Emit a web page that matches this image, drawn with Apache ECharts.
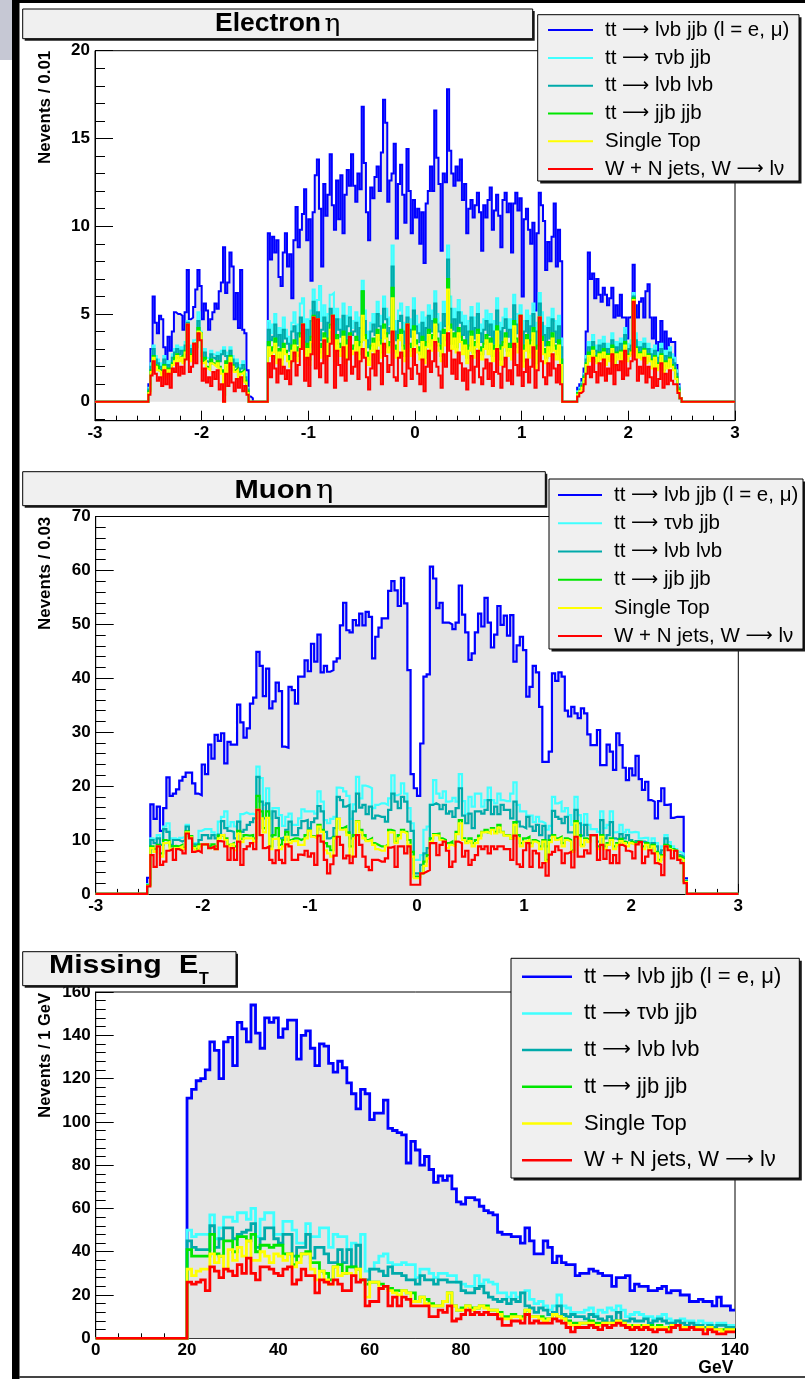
<!DOCTYPE html>
<html><head><meta charset="utf-8">
<script src="https://cdn.jsdelivr.net/npm/echarts@6/dist/echarts.min.js"></script>
<style>html,body{margin:0;padding:0;background:#fff}#c{width:805px;height:1379px}</style>
</head><body><div id="c"></div><script>
const NAMES = ['tt \u2192 l\u03bdb jjb (l = e, \u03bc)', 'tt \u2192 \u03c4\u03bdb jjb', 'tt \u2192 l\u03bdb l\u03bdb', 'tt \u2192 jjb jjb', 'Single Top', 'W + N jets, W \u2192 l\u03bd'];
const COLORS = ['#0000ff', '#40ffff', '#00aaaa', '#00e600', '#ffff00', '#ff0000'];

// ---------- Electron eta: 0.02 bins from -2.50 to 2.50 (cumulative stack levels as read) ----------
const eleStart = -2.5, eleBin = 0.02;
const eleLvbJjb = [
 1.0,3.0,6.0,4.5,3.9,4.9,4.7,3.1,2.4,3.7, 2.9,4.0,5.1,5.0,5.0,4.9,4.1,5.1,7.5,4.7, 4.8,5.4,6.4,7.5,6.6,4.7,5.6,5.2,4.1,4.7,
 5.1,5.6,5.3,6.3,6.8,8.8,6.2,6.8,8.5,7.7, 4.7,6.2,4.2,7.5,4.1,3.9,1.8,
 0.3,0.2,0,0,0,0,0,0,0,
 9.6,8.1,9.4,8.5,9.2,7.1,6.6,8.5,9.6,7.7, 8.4,5.9,9.2,11.1,8.8,9.8,10.7,12.1,9.2,10.4, 6.9,10.8,12.9,13.8,11.0,7.7,12.4,10.6,11.8,14.1,
 11.2,9.8,12.6,10.4,12.9,9.6,11.8,13.2,12.3,14.1, 12.3,11.4,13.0,12.1,16.8,13.6,10.8,9.2,12.2,11.6, 12.8,13.4,12.0,14.2,17.2,15.9,11.4,12.6,13.0,14.7,
 9.3,12.4,13.5,11.8,10.2,14.4,12.0,9.6,11.5,10.5, 11.0,9.0,10.8,7.9,11.3,12.0,13.4,12.0,16.6,13.9, 12.4,8.6,13.0,12.5,17.8,14.3,13.0,12.3,13.4,12.6,
 13.8,11.5,12.4,9.6,11.0,11.5,10.5,11.2,11.9,10.8, 8.6,11.2,10.5,11.5,12.2,9.8,10.9,11.8,10.6,8.8, 11.5,11.9,10.8,11.3,8.5,11.3,11.9,10.9,11.6,6.0,
 10.4,11.0,9.8,9.0,10.2,5.2,9.6,11.9,11.2,10.3, 7.5,9.1,8.0,9.4,11.3,7.7,9.8,8.0,
 0,0,0,0,0,0,0,
 0.8,1.0,1.3,1.9,4.0,8.5,7.0,7.3,5.9,7.0, 6.1,5.7,6.5,6.1,5.5,5.9,6.5,4.8,5.5,4.9, 6.1,4.8,4.8,3.6,4.8,4.9,7.8,5.5,4.8,5.7,
 5.9,4.8,6.3,6.7,4.8,3.6,4.8,2.9,3.4,4.6, 3.0,4.0,3.0,3.6,3.4,3.4,2.1,1.0,0.2];
const eleTauJjb = [
 0.8,2.2,3.2,2.6,2.4,2.2,2.0,2.6,1.9,2.3, 2.1,2.7,3.0,3.2,2.9,3.1,2.8,3.4,4.6,3.0, 3.2,3.5,3.6,5.1,4.0,2.8,3.0,2.5,2.4,2.9,
 2.7,2.6,2.8,2.5,2.9,3.1,2.8,2.2,3.1,2.6, 2.2,2.4,1.9,2.1,2.3,1.6,0.8,
 0,0,0,0,0,0,0,0,0,
 4.6,3.9,4.4,5.0,3.6,4.2,3.4,4.8,4.1,3.7, 3.2,4.5,5.1,3.8,4.4,5.6,5.9,3.9,4.7,3.5, 5.2,6.4,4.3,5.8,6.6,4.6,5.5,3.9,5.0,6.1,
 6.2,3.8,5.3,4.7,4.1,5.6,3.7,4.9,5.4,4.2, 4.6,5.1,3.9,4.8,6.9,5.2,4.0,3.6,4.5,5.0, 4.3,5.7,4.9,4.1,6.0,5.3,4.4,4.8,8.9,4.6,
 4.0,5.2,5.6,4.5,3.8,5.4,4.7,4.2,5.9,4.9, 4.4,3.9,5.1,3.6,4.8,5.5,4.6,5.2,6.3,5.0, 4.5,3.8,5.7,4.9,8.9,6.0,4.7,5.3,4.4,5.8,
 5.1,4.3,4.9,3.7,4.6,5.4,4.1,4.8,5.6,4.4, 3.9,4.7,5.2,4.3,5.0,3.8,4.6,5.9,4.5,3.6, 4.8,5.3,4.2,4.7,3.9,6.1,5.0,4.4,5.5,3.4,
 4.6,5.2,4.0,4.9,5.6,3.3,4.5,6.2,5.1,4.3, 3.7,4.8,4.1,5.3,4.6,3.9,4.9,3.6,
 0,0,0,0,0,0,0,
 0.6,0.8,1.1,1.6,2.6,3.4,3.0,3.8,3.2,2.9, 3.5,3.1,3.7,2.8,3.3,3.0,3.9,2.7,3.4,3.1, 3.6,2.9,4.2,3.0,3.3,3.5,6.2,3.9,3.2,3.4,
 3.1,3.6,2.9,3.3,3.0,2.6,3.2,2.5,2.8,3.3, 2.4,2.9,2.6,3.1,2.7,2.5,1.8,0.9,0.2];
const eleLvbLvb = [
 0.7,2.0,3.0,2.4,2.2,2.0,1.8,2.4,1.7,2.1, 1.9,2.5,2.8,3.0,2.7,2.9,2.6,3.2,4.5,2.8, 3.0,3.2,3.4,4.6,3.9,2.6,2.8,2.3,2.2,2.7,
 2.5,2.4,2.6,2.3,2.7,2.9,2.6,2.0,2.9,2.4, 2.0,2.2,1.7,1.9,2.1,1.4,0.7,
 0,0,0,0,0,0,0,0,0,
 4.1,3.5,3.7,4.4,3.2,3.8,3.0,4.1,3.6,3.3, 2.9,4.0,4.3,3.3,3.9,4.8,3.8,3.4,4.1,3.1, 4.6,5.7,3.8,5.1,3.5,4.1,4.8,3.4,4.5,5.3,
 3.9,3.3,4.7,4.1,3.7,4.9,3.2,4.3,4.8,3.8, 4.0,4.5,3.5,4.2,6.2,4.6,3.5,3.1,4.0,4.4, 3.8,5.0,4.3,3.6,5.3,4.7,3.9,4.2,7.7,4.0,
 3.5,4.6,4.9,4.0,3.3,4.8,4.1,3.7,5.2,4.3, 3.9,3.4,4.5,3.2,4.2,4.9,4.0,4.6,5.6,4.4, 4.0,3.3,5.0,4.3,8.1,5.3,4.1,4.7,3.9,5.1,
 4.5,3.8,4.3,3.2,4.0,4.8,3.6,4.2,5.0,3.9, 3.4,4.1,4.6,3.8,4.4,3.3,4.0,5.2,4.0,3.1, 4.2,4.7,3.7,4.1,3.4,5.5,4.4,3.9,4.9,3.0,
 4.0,4.6,3.5,4.3,5.0,2.9,4.0,5.6,4.5,3.8, 3.2,4.2,3.6,4.7,4.0,3.4,4.3,3.1,
 0,0,0,0,0,0,0,
 0.5,0.7,1.0,1.5,2.4,3.1,2.7,3.4,2.9,2.6, 3.2,2.8,3.3,2.5,3.0,2.7,3.5,2.4,3.1,2.8, 3.3,2.6,3.8,2.7,3.0,3.2,6.0,3.5,2.9,3.1,
 2.8,3.3,2.6,3.0,2.7,2.3,2.9,2.2,2.5,3.0, 2.1,2.6,2.3,2.8,2.4,2.2,1.6,0.8,0.2];
const eleJjbJjb = [
 0.6,1.8,2.6,2.1,2.0,1.8,1.6,2.1,1.5,1.9, 1.7,2.2,2.5,2.7,2.5,2.6,2.3,2.9,4.4,2.5, 2.7,3.0,3.1,4.2,3.9,2.3,2.5,2.0,1.9,2.4,
 2.2,2.1,2.3,2.0,1.8,0.4,2.3,1.8,2.6,2.1, 1.8,1.9,1.5,1.7,1.8,1.2,0.6,
 0,0,0,0,0,0,0,0,0,
 3.4,2.8,3.1,3.6,2.5,3.0,2.4,3.3,2.9,2.6, 2.2,3.2,3.5,2.6,3.1,3.9,3.0,2.7,3.3,2.4, 3.7,4.9,3.0,4.1,2.8,3.3,3.9,2.6,3.6,4.4,
 3.1,2.6,3.8,3.3,2.9,4.0,2.5,3.5,3.9,3.0, 3.2,3.7,2.7,3.4,6.3,3.8,2.8,2.4,3.2,3.6, 3.0,4.1,3.5,2.8,4.4,3.9,3.1,3.4,6.5,3.2,
 2.8,3.8,4.1,3.2,2.6,4.0,3.3,2.9,4.3,3.5, 3.1,2.7,3.7,2.5,3.4,4.1,3.2,3.8,4.7,3.6, 3.2,2.6,4.1,3.5,7.0,4.4,3.3,3.9,3.1,4.2,
 3.7,3.0,3.5,2.5,3.2,4.0,2.8,3.4,4.1,3.1, 2.7,3.3,3.8,3.0,3.6,2.6,3.2,4.3,3.2,2.4, 3.4,3.9,2.9,3.3,2.7,4.6,3.6,3.1,4.0,2.3,
 3.2,3.8,2.8,3.5,4.2,2.2,3.2,4.7,3.7,3.0, 2.5,3.4,2.9,3.9,3.2,2.7,3.5,2.4,
 0,0,0,0,0,0,0,
 0.5,0.6,0.9,1.4,2.2,2.8,2.4,3.1,2.6,2.3, 2.8,2.5,3.0,2.2,2.7,2.4,3.2,2.1,2.8,2.5, 2.9,2.3,3.4,2.4,2.7,2.9,5.9,3.1,2.6,2.8,
 2.5,3.0,2.3,2.7,2.4,2.0,2.6,1.9,2.2,2.7, 1.8,2.3,2.0,2.5,2.1,1.9,1.4,0.7,0.2];
const eleSingleTop = [
 0.5,1.7,2.5,2.0,1.8,1.7,1.5,2.0,1.4,1.8, 1.6,2.1,2.3,2.6,2.3,2.5,2.2,2.8,4.4,2.3, 2.6,2.8,3.0,4.0,3.9,2.2,2.3,1.9,1.8,2.2,
 2.1,2.0,2.2,1.9,1.6,0.0,2.1,1.7,2.5,2.0, 1.7,1.8,1.4,1.6,1.7,1.1,0.5,
 0,0,0,0,0,0,0,0,0,
 3.1,2.6,2.8,3.3,2.2,2.8,2.1,3.0,2.7,2.3, 2.0,2.9,3.2,2.3,2.8,3.6,2.8,2.4,3.0,2.1, 3.4,4.6,2.7,3.8,2.5,3.0,3.6,2.4,3.3,4.1,
 2.8,2.3,3.5,3.0,2.6,3.7,2.2,3.2,3.6,2.7, 2.9,3.4,2.4,3.1,4.9,3.5,2.5,2.1,2.9,3.3, 2.7,3.8,3.2,2.5,4.1,3.6,2.8,3.1,5.9,2.9,
 2.5,3.5,3.8,2.9,2.3,3.7,3.0,2.6,4.0,3.2, 2.8,2.4,3.4,2.2,3.1,3.8,2.9,3.5,4.4,3.3, 2.9,2.3,3.8,3.2,6.4,4.1,3.0,3.6,2.8,3.9,
 3.4,2.7,3.2,2.2,2.9,3.7,2.5,3.1,3.8,2.8, 2.4,3.0,3.5,2.7,3.3,2.3,2.9,4.0,2.9,2.1, 3.1,3.6,2.6,3.0,2.4,4.3,3.3,2.8,3.7,2.0,
 2.9,3.5,2.5,3.2,3.9,1.9,2.9,4.4,3.4,2.7, 2.2,3.1,2.6,3.6,2.9,2.4,3.2,2.1,
 0,0,0,0,0,0,0,
 0.4,0.6,0.8,1.3,2.1,2.6,2.3,2.9,2.5,2.2, 2.7,2.4,2.8,2.1,2.6,2.3,3.0,2.0,2.7,2.4, 2.8,2.2,3.2,2.3,2.6,2.8,5.8,3.0,2.5,2.7,
 2.4,2.9,2.2,2.6,2.3,1.9,2.5,1.8,2.1,2.6, 1.7,2.2,1.9,2.4,2.0,1.8,1.3,0.6,0.2];
const eleWjets = [
 0.4,1.5,2.3,1.6,1.2,1.4,0.9,1.8,1.0,1.6, 0.8,1.9,1.7,2.2,1.5,2.0,1.6,2.4,4.4,1.7, 2.0,3.3,2.2,3.9,3.5,1.2,1.9,1.1,1.4,0.9,
 1.7,1.3,1.8,0.7,1.0,0.0,1.6,0.9,2.2,1.1, 0.6,1.3,0.8,1.4,0.6,0.9,0.4,
 0,0,0,0,0,0,0,0,0,
 2.2,1.4,2.6,1.9,1.1,2.4,1.6,2.0,1.3,1.8, 1.0,2.3,2.8,1.5,2.1,3.0,4.4,1.2,2.5,0.9, 2.7,4.8,1.9,4.7,1.4,2.2,3.5,1.1,2.6,3.3,
 4.9,0.8,2.9,2.1,1.5,3.1,1.2,2.4,3.7,1.6, 2.0,2.8,1.3,2.3,3.0,2.5,1.4,0.7,1.9,2.7, 1.5,2.9,2.2,1.0,3.3,2.6,1.7,2.1,4.0,1.4,
 1.2,2.5,2.8,1.6,0.9,4.4,1.9,1.3,3.0,2.1, 1.6,1.0,2.4,0.6,2.0,2.9,1.7,2.3,3.4,2.0, 1.5,0.8,2.7,2.0,3.9,2.9,1.6,2.4,1.3,2.8,
 2.2,1.2,1.9,0.7,1.8,2.6,1.1,2.0,2.9,1.4, 1.0,1.9,2.4,1.3,2.2,0.9,1.7,3.0,1.6,0.8, 2.0,2.5,1.2,1.8,1.0,3.3,2.1,1.5,4.9,0.9,
 1.7,2.4,1.1,2.0,3.1,0.8,1.8,4.8,2.3,1.4, 1.0,2.2,1.5,2.7,1.9,1.1,2.1,1.0,
 0,0,0,0,0,0,0,
 0.3,0.5,0.6,1.0,1.6,2.0,1.4,2.5,1.7,1.1, 2.2,1.5,2.4,1.2,1.9,1.6,2.7,1.0,2.1,1.8, 2.3,1.3,2.9,1.5,1.9,2.3,5.7,2.4,1.2,2.0,
 1.6,2.5,1.1,2.0,1.4,0.8,1.9,0.9,1.3,2.2, 0.8,1.6,1.0,1.8,1.2,1.0,1.0,0.5,0.2];

// ---------- Muon eta: 0.03 bins from -2.52 ----------
const muStart = -2.52, muBin = 0.03;
const muLvbJjb = [3.0,
 16.6,13.9,16.2,11.7,15.9,21.6,18.2,18.6,19.4,21.0, 21.7,22.5,22.5,20.5,18.6,18.3,24.0,22.2,27.7,25.1,
 29.5,28.4,29.8,24.2,28.2,27.7,27.7,35.1,31.8,29.0, 30.7,35.3,36.4,44.9,42.3,36.7,41.8,34.4,35.7,39.2,
 37.6,27.3,27.1,38.4,37.8,35.3,40.3,40.3,43.3,41.3, 46.4,43.1,48.1,41.1,42.3,41.2,41.5,43.1,43.7,49.8,
 54.0,48.9,48.5,50.8,49.8,52.0,49.8,52.3,51.4,43.7, 47.7,49.4,51.1,51.1,56.2,58.0,56.3,53.4,58.6,53.9,
 41.5,22.2,19.6,18.2,27.9,40.3,40.7,60.7,58.5,53.0, 54.0,50.3,50.3,50.0,49.1,50.3,57.2,51.8,48.5,43.4,
 44.6,48.5,52.0,49.6,54.9,50.3,45.7,48.1,53.4,49.9, 51.6,47.9,51.7,43.1,46.1,47.7,45.2,36.6,38.4,42.3,
 41.1,34.7,24.5,24.5,26.4,40.9,39.5,41.1,40.3,34.0, 32.9,34.7,33.5,32.6,34.4,33.5,29.6,27.6,27.6,30.4,
 23.9,23.9,27.7,26.4,23.0,29.8,27.6,23.4,21.1,23.3, 22.0,25.6,21.3,19.3,20.8,17.4,17.1,14.0,17.2,19.6,
 16.5,16.6,14.1,14.3,14.3,14.3,2.9];
const muTauJjb = [1.8,
 10.3,10.0,10.9,9.1,12.5,13.1,10.3,10.3,10.0,10.4, 10.6,12.8,10.4,9.4,9.4,11.7,12.0,12.0,12.0,11.4,
 10.9,13.4,14.3,15.3,12.5,13.3,12.5,13.4,14.8,15.1, 14.8,14.9,14.6,23.6,21.5,16.5,19.6,14.0,15.9,15.9,
 14.6,12.6,14.3,14.9,12.8,12.8,14.0,15.7,15.3,15.3, 15.3,14.9,19.0,17.1,13.7,13.1,13.9,14.3,19.7,19.6,
 19.0,18.2,13.9,16.6,21.7,17.7,20.1,19.9,19.6,15.9, 16.5,16.8,16.8,16.5,17.7,22.0,18.3,18.6,20.5,18.6,
 15.9,13.1,6.3,6.3,7.2,11.9,12.5,14.0,21.1,18.6, 17.8,19.0,17.1,17.2,17.8,17.1,22.2,17.2,14.8,18.0,
 16.2,18.6,18.6,16.2,17.4,19.7,17.4,16.8,18.6,17.4, 17.2,17.2,18.6,20.7,16.5,15.3,15.3,14.5,14.5,13.3,
 14.3,13.4,13.1,11.9,12.6,18.0,16.8,17.1,15.3,15.9, 14.6,12.8,18.0,14.6,12.8,14.8,12.8,12.0,12.0,11.5,
 15.3,12.2,12.8,15.3,11.4,11.5,12.8,11.4,11.9,11.4, 11.5,11.4,10.3,10.4,10.4,9.4,10.3,9.4,7.8,8.8,
 10.9,9.6,8.8,8.3,7.8,7.5,2.5];
const muLvbLvb = [1.7,
 10.0,9.4,10.3,9.1,12.0,11.5,9.1,10.0,10.0,9.7, 10.0,12.5,9.4,9.2,9.1,10.0,10.9,10.9,10.3,10.9,
 10.3,11.0,13.5,12.2,11.7,11.5,10.3,13.4,11.5,11.9, 12.8,13.3,14.0,21.7,17.1,14.0,16.8,10.8,15.3,14.1,
 10.3,10.6,11.9,13.4,10.9,10.9,12.2,13.5,13.7,12.2, 13.3,14.0,16.3,15.3,11.5,10.3,10.6,12.2,18.0,17.4,
 16.2,16.5,10.3,15.3,18.6,16.0,16.5,14.8,16.2,14.0, 14.5,14.3,14.3,13.4,15.6,18.6,17.1,15.9,18.0,17.1,
 13.4,11.7,3.8,3.8,5.4,7.5,8.5,16.5,16.8,16.5, 15.7,16.5,14.9,15.3,14.3,15.9,19.6,14.5,13.1,14.9,
 12.2,15.3,15.3,14.9,15.6,17.4,14.8,16.2,14.8,16.5, 15.6,15.6,14.0,17.1,13.4,12.5,12.2,14.3,12.5,11.7,
 12.8,10.9,12.6,8.8,10.8,15.4,14.3,13.9,13.1,14.3, 11.4,11.4,15.6,13.1,10.8,12.8,10.9,10.6,10.6,9.7,
 13.7,10.3,10.9,13.3,10.3,10.0,11.1,10.3,10.9,10.0, 9.4,9.8,9.1,9.7,9.4,8.8,9.4,8.8,7.5,8.1,
 10.3,8.8,8.1,7.8,7.2,6.9,2.4];
const muJjbJjb = [1.6,
 8.8,8.3,9.1,7.5,10.0,9.8,8.8,8.9,8.8,9.1, 8.6,11.6,10.7,8.8,8.3,9.2,9.1,9.1,8.8,9.2,
 8.8,10.8,10.9,10.3,9.1,9.4,8.8,11.7,10.2,10.9, 10.8,10.9,10.3,18.2,15.3,12.2,15.3,8.8,10.9,12.2,
 9.1,10.0,11.5,10.0,10.3,10.3,10.0,10.3,10.9,11.8, 10.7,10.6,12.8,11.9,9.4,8.8,8.1,10.6,13.9,12.2,
 12.5,11.4,8.8,10.9,13.5,11.9,10.9,10.0,10.3,9.4, 9.1,8.8,8.8,9.1,11.9,11.7,9.7,10.9,11.9,11.5,
 10.0,7.8,3.2,3.2,3.8,6.0,7.2,10.3,11.1,11.2, 10.3,10.0,9.4,9.7,9.1,11.5,13.7,10.3,9.7,10.3,
 9.4,10.0,10.8,11.5,11.9,11.4,12.2,11.5,12.8,11.5, 10.9,10.9,10.3,13.3,10.9,9.4,10.3,10.6,9.4,10.0,
 9.7,8.8,10.0,6.3,10.0,10.9,10.3,10.6,9.4,10.3, 10.0,8.1,13.5,10.9,9.1,10.3,10.0,9.4,9.4,8.8,
 10.9,8.8,9.4,10.3,8.8,9.4,10.2,9.7,9.4,9.7, 9.4,9.7,9.7,8.8,9.4,8.5,9.1,7.8,6.3,7.2,
 9.1,8.8,8.3,7.5,6.9,6.6,2.3];
const muSingleTop = [1.5,
 8.5,7.8,8.8,6.9,9.4,9.6,8.3,8.5,8.5,8.8, 8.3,11.4,10.5,8.5,8.0,8.8,8.6,8.6,8.1,8.8,
 8.3,10.3,10.9,10.0,8.8,9.2,8.1,11.2,9.6,10.3, 10.3,10.3,9.7,15.6,14.0,11.4,14.1,8.3,10.2,10.3,
 8.3,8.8,10.6,9.4,9.8,9.8,9.1,9.1,10.3,11.7, 10.6,10.3,12.5,11.5,8.1,7.5,6.9,10.3,13.9,11.9,
 12.0,10.9,6.9,10.3,13.4,11.4,10.3,9.8,10.0,9.1, 8.3,8.0,8.0,8.8,11.4,11.4,9.4,10.3,11.5,11.2,
 9.1,6.9,2.9,2.9,3.5,5.2,6.6,9.7,10.9,10.8, 10.0,9.4,8.5,9.1,8.8,11.1,13.1,10.0,9.4,9.8,
 8.8,9.4,10.3,11.4,11.5,11.2,11.9,11.2,12.3,11.4, 10.8,10.8,10.3,12.8,10.3,8.8,9.7,10.0,8.8,9.7,
 9.4,8.3,9.7,6.0,9.6,10.6,10.0,10.3,8.8,10.0, 9.7,7.8,13.1,10.3,8.8,10.0,9.6,9.1,9.1,8.3,
 10.6,8.3,9.1,10.0,8.3,9.1,9.8,9.4,8.8,9.4, 9.1,9.4,9.4,8.3,9.1,8.3,8.8,7.5,6.0,6.9,
 8.8,8.3,8.0,7.2,6.6,6.3,2.2];
const muWjets = [1.4,
 7.2,5.0,8.8,5.4,6.0,8.0,8.3,6.3,8.3,8.0, 7.5,11.2,10.3,7.8,8.0,7.7,9.2,9.2,8.5,8.8,
 8.3,9.8,9.7,8.8,6.3,8.5,6.3,9.7,5.4,8.3, 8.8,9.4,8.3,15.6,10.9,8.5,8.8,6.3,5.7,8.1,
 6.3,5.7,9.2,8.8,6.3,6.3,7.3,7.2,8.0,6.9, 7.5,5.4,10.8,9.7,6.3,3.8,5.5,7.1,10.6,9.1,
 6.6,7.1,5.7,6.9,10.9,9.1,6.9,5.0,4.4,6.3, 6.3,6.0,6.0,6.6,8.6,8.8,5.0,8.8,8.8,7.5,
 8.8,1.7,1.7,1.7,3.8,4.1,4.4,9.4,9.4,7.2, 9.1,9.7,8.0,5.0,6.0,9.7,9.4,6.9,8.0,5.4,
 6.3,7.2,8.8,8.3,8.8,7.5,8.8,8.3,8.8,8.8, 8.3,8.3,6.3,10.8,5.5,5.0,8.1,9.4,5.0,8.0,
 7.5,4.9,5.7,3.4,7.3,7.8,8.8,8.1,5.7,7.5, 7.8,4.9,10.6,6.9,6.9,8.1,7.5,10.9,10.9,6.3,
 9.1,6.5,8.1,5.7,7.2,5.7,9.1,8.8,8.0,7.8, 6.6,9.2,9.6,5.7,6.9,8.1,7.5,5.7,5.4,3.5,
 8.8,8.1,6.6,8.0,6.3,5.7,2.0];

// ---------- Missing ET: 1 GeV bins from 20 GeV ----------
const metStart = 20, metBin = 1;
const metLvbJjb = [111,115,119,120,124,137,133,120,137,139, 126,146,143,137,154,141,134,148,146,148, 139,143,147,147,129,140,142,134,126,136,
 135,127,123,128,125,118,113,106,115,113, 101,104,104,110,97,96,95,94,81,91, 87,80,84,78,72,75,73,75,69,63,
 62,65,65,64,61,59,58,57,49,48, 48,47,47,44,51,45,39,39,45,42, 35,38,35,34,34,29,30,30,32,31,
 30,29,29,24,28,28,29,22,25,24, 24,22,22,23,24,21,22,22,20,20, 17,17,18,17,17,15,19,15,15,13];
const metTauJjb = [50,47,48,48,48,57,46,51,56,56, 54,58,58,55,60,47,55,58,58,48, 48,54,54,50,44,44,53,47,47,51,
 51,42,48,47,47,39,44,38,48,31, 31,35,38,39,35,34,34,35,34,34, 28,32,32,30,28,30,30,29,29,25,
 25,24,24,29,25,27,26,25,21,21, 19,21,19,19,22,18,16,17,15,13, 15,20,15,14,12,12,12,13,14,11,
 13,12,14,13,15,13,10,11,12,11, 10,10,9,10,11,9,8,8,9,8, 8,7,8,7,7,6,7,7,6,6];
const metLvbLvb = [45,42,41,41,41,52,42,46,51,51, 46,48,49,50,53,42,46,51,51,46, 44,48,48,38,42,42,48,37,42,42,
 39,35,35,41,35,41,33,43,27,27, 32,32,31,29,33,30,30,29,27,27, 25,29,27,27,25,27,27,26,26,26,
 22,21,21,23,24,21,19,18,17,18, 16,18,17,21,15,14,12,14,13,11, 12,15,11,10,11,10,10,9,11,10,
 9,8,10,8,12,8,8,9,8,8, 9,7,8,9,8,7,7,8,7,6, 7,6,6,5,6,5,6,6,5,5];
const metJjbJjb = [41,38,38,38,38,48,39,38,45,45, 40,47,47,44,48,40,43,43,42,43, 43,39,39,34,38,38,40,35,35,27,
 30,27,27,34,28,33,33,31,25,25, 19,25,25,22,23,22,22,22,21,21, 17,18,18,16,15,15,15,20,13,13,
 14,15,14,14,15,15,13,13,12,10, 10,11,10,10,13,10,10,10,9,9, 11,10,9,8,7,7,7,7,8,7,
 7,7,7,7,8,7,6,6,6,6, 6,6,5,6,5,5,6,6,5,5, 5,5,5,4,5,4,4,4,4,4];
const metSingleTop = [32,29,31,32,32,39,35,38,32,41, 36,42,38,45,36,36,40,38,35,39, 38,36,39,33,35,39,39,32,27,31,
 27,25,33,29,30,30,27,32,27,19, 26,26,19,24,22,21,20,22,21,17, 17,19,16,15,15,15,17,21,15,13,
 13,15,13,14,15,14,13,13,11,9, 9,10,10,9,13,10,10,9,8,9, 11,10,9,7,6,6,7,7,7,6,
 6,7,7,7,8,7,6,5,6,5, 6,5,5,5,5,4,6,6,5,5, 5,5,5,4,5,4,4,3,4,4];
const metWjets = [26,25,26,27,22,33,31,28,32,31, 29,34,30,37,30,27,33,33,32,30, 29,32,33,25,27,32,29,29,21,27,
 26,25,27,25,22,22,29,26,27,15, 17,17,23,24,15,19,15,19,18,15, 15,15,15,10,10,13,12,15,8,9,
 11,13,11,12,11,12,11,11,9,6, 6,8,8,7,11,7,8,7,7,7, 9,8,7,5,3,5,5,5,6,5,
 4,6,5,6,7,6,5,4,5,4, 5,4,3,4,4,3,5,6,4,4, 5,4,4,2,4,3,2,2,3,3];

// ---------- axis ticks / titles ----------
const eleYMajor = [0, 5, 10, 15, 20];
const eleYMinor = [-1,1,2,3,4,6,7,8,9,11,12,13,14,16,17,18,19];
const yTitles = ['Nevents / 0.01', 'Nevents / 0.03', 'Nevents / 1 GeV'];

const FONT = "'Liberation Sans', Arial, Helvetica, sans-serif";

function ordered(levels) {
  const out = levels.map(a => a.slice());
  for (let s = out.length - 2; s >= 0; s--)
    for (let i = 0; i < out[s].length; i++) out[s][i] = Math.max(out[s][i], out[s + 1][i]);
  return out;
}
function histPoints(vals, start, w, xmin, xmax) {
  const pts = [[xmin, 0]];
  for (let i = 0; i < vals.length; i++) pts.push([+(start + i * w).toFixed(4), vals[i]]);
  const end = +(start + vals.length * w).toFixed(4);
  if (end < xmax - 1e-9) { pts.push([end, 0]); pts.push([xmax, 0]); }
  else pts.push([end, vals[vals.length - 1]]);
  return pts;
}
function panel(levels, start, w, xmin, xmax, xi, yi, lw) {
  return ordered(levels).map((vals, s) => ({
    type: 'line', name: NAMES[s], xAxisIndex: xi, yAxisIndex: yi, step: 'end',
    symbol: 'none', showSymbol: false, silent: true, animation: false, z: 2,
    data: histPoints(vals, start, w, xmin, xmax),
    lineStyle: { color: COLORS[s], width: lw, join: 'miter' },
    itemStyle: { color: COLORS[s] },
    areaStyle: s === 0 ? { color: '#e4e4e4', opacity: 1 } : null
  }));
}

const lab = { fontFamily: FONT, fontWeight: 'bold', fontSize: 17, color: '#000' };
const blk = { color: '#000', width: 1 };
function xAx(gi, min, max, interval, split) {
  return { gridIndex: gi, type: 'value', min, max, interval,
    axisLine: { show: true, onZero: false, lineStyle: blk },
    axisTick: { show: true, inside: true, length: 10, lineStyle: blk },
    minorTick: { show: true, splitNumber: split, length: 5, lineStyle: blk },
    axisLabel: Object.assign({ margin: 4 }, lab),
    splitLine: { show: false }, minorSplitLine: { show: false } };
}
function yAx(gi, min, max, interval) {
  return { gridIndex: gi, type: 'value', position: 'left', min, max, interval,
    axisLine: { show: true, onZero: false, lineStyle: blk },
    axisTick: { show: true, inside: true, length: 18, lineStyle: blk },
    minorTick: { show: true, splitNumber: 5, length: 10, lineStyle: blk },
    axisLabel: Object.assign({ margin: 5 }, lab),
    splitLine: { show: false }, minorSplitLine: { show: false } };
}

const grids = [
  { left: 95, top: 50.7, width: 640, height: 370 },
  { left: 95.7, top: 516.5, width: 642.6, height: 377.4 },
  { left: 95.7, top: 992, width: 639.3, height: 346.3 }
].map(g => Object.assign(g, { show: true, borderColor: '#000', borderWidth: 1, backgroundColor: 'transparent', containLabel: false, outerBoundsMode: 'none' }));

const xAxes = [xAx(0, -3, 3, 1, 5), xAx(1, -3, 3, 1, 5), xAx(2, 0, 140, 20, 4)];
const yAxes = [
  { gridIndex: 0, type: 'value', position: 'left', min: -1.08, max: 20,
    axisLine: { show: true, onZero: false, lineStyle: blk },
    axisTick: { show: true, inside: true, length: 18, lineStyle: blk, customValues: eleYMajor },
    axisLabel: Object.assign({ margin: 5, customValues: eleYMajor }, lab),
    splitLine: { show: false } },
  { gridIndex: 0, type: 'value', position: 'left', offset: 0, min: -1.08, max: 20,
    axisLine: { show: false, onZero: false },
    axisTick: { show: true, inside: true, length: 10, lineStyle: blk, customValues: eleYMinor },
    axisLabel: { show: false }, splitLine: { show: false } },
  yAx(1, 0, 70, 10),
  yAx(2, 0, 160, 20)
];

const series = [].concat(
  panel([eleLvbJjb, eleTauJjb, eleLvbLvb, eleJjbJjb, eleSingleTop, eleWjets], eleStart, eleBin, -3, 3, 0, 0, 2),
  panel([muLvbJjb, muTauJjb, muLvbLvb, muJjbJjb, muSingleTop, muWjets], muStart, muBin, -3, 3, 1, 2, 2.2),
  panel([metLvbJjb, metTauJjb, metLvbLvb, metJjbJjb, metSingleTop, metWjets], metStart, metBin, 0, 140, 2, 3, 2.8)
);

function legend(left, top, gap, fs, lh, iw, ih, afs) {
  return { show: true, orient: 'vertical', left, top, itemGap: gap, itemWidth: iw, itemHeight: ih,
    icon: 'rect', padding: 0, z: 6, selectedMode: false, data: NAMES,
    formatter: n => n.replace(/\u2192/g, '{a|\u27f6}'),
    textStyle: { fontFamily: FONT, fontSize: fs, color: '#000', lineHeight: lh, padding: [0, 0, 0, 7],
      rich: { a: { fontFamily: "'DejaVu Sans', sans-serif", fontSize: afs, color: '#000', lineHeight: lh } } } };
}

function box(x, y, w, h, sh) {
  return [
    { type: 'rect', z: 3, shape: { x: x + sh, y: y + sh, width: w, height: h }, style: { fill: '#1a1a1a' } },
    { type: 'rect', z: 3, shape: { x, y, width: w, height: h }, style: { fill: '#f0f0f0', stroke: '#000', lineWidth: 1 } }
  ];
}
function txt(x, y, t, font, align, extra) {
  return Object.assign({ type: 'text', z: 6, x, y,
    style: { text: t, font, fill: '#000', align, verticalAlign: 'middle', textAlign: align, textVerticalAlign: 'middle' } }, extra || {});
}
function ytitle(x, y, t, fs) {
  return txt(x, y, t, 'bold ' + fs + 'px ' + FONT, 'right', { rotation: Math.PI / 2 });
}

const graphics = [].concat(
  [{ type: 'rect', z: 1, shape: { x: 0, y: 0, width: 12, height: 60 }, style: { fill: '#c6c8d4' } },
   { type: 'rect', z: 8, shape: { x: 12, y: 0, width: 7.5, height: 1379 }, style: { fill: '#000' } },
   { type: 'rect', z: 8, shape: { x: 12, y: 0, width: 793, height: 3 }, style: { fill: '#000' } },
   { type: 'rect', z: 8, shape: { x: 19, y: 1376, width: 786, height: 2 }, style: { fill: '#444' } }],
  box(22.7, 9, 510, 29.7, 2), box(22.7, 471.7, 522.6, 34, 2), box(22.7, 951.7, 213.3, 34, 2),
  box(537.7, 14.7, 261.3, 166.3, 2.5), box(549, 479, 254, 170, 2.5), box(511, 958.3, 288.3, 219.7, 2.5),
  [
    { type: 'text', z: 6, x: 277.7, y: 24, scaleX: 1.06,
      style: { text: '{b|Electron} {g|\u03b7}', align: 'center', verticalAlign: 'middle', textAlign: 'center', textVerticalAlign: 'middle',
        rich: { b: { fontFamily: FONT, fontWeight: 'bold', fontSize: 25, fill: '#000', color: '#000' }, g: { fontFamily: "'DejaVu Serif', serif", fontSize: 25, color: '#000', fill: '#000' } } } },
    { type: 'text', z: 6, x: 284, y: 491, scaleX: 1.12,
      style: { text: '{b|Muon} {g|\u03b7}', align: 'center', verticalAlign: 'middle', textAlign: 'center', textVerticalAlign: 'middle',
        rich: { b: { fontFamily: FONT, fontWeight: 'bold', fontSize: 26, fill: '#000', color: '#000' }, g: { fontFamily: "'DejaVu Serif', serif", fontSize: 26, color: '#000', fill: '#000' } } } },
    txt(49, 965.7, 'Missing', 'bold 25px ' + FONT, 'left', { scaleX: 1.21 }),
    txt(179, 965.7, 'E', 'bold 25px ' + FONT, 'left', { scaleX: 1.15 }),
    txt(199, 980, 'T', 'bold 16px ' + FONT, 'left'),
    ytitle(45, 50.7, yTitles[0], 17), ytitle(45.3, 516.7, yTitles[1], 17), ytitle(45.8, 993, yTitles[2], 16.5),
    txt(733.3, 1367.7, 'GeV', 'bold 17.5px ' + FONT, 'right')
  ]
);

const chart = echarts.init(document.getElementById('c'), null, { renderer: 'canvas', width: 805, height: 1379 });
chart.setOption({
  animation: false,
  backgroundColor: '#ffffff',
  grid: grids,
  xAxis: xAxes,
  yAxis: yAxes,
  legend: [legend(548, 19.6, 6.8, 20.5, 20, 45, 2, 19), legend(558, 484.6, 7.2, 20.5, 20, 44, 2, 19), legend(522, 965.7, 14.7, 22, 22, 50, 2.5, 20)],
  graphic: { elements: graphics },
  series
});
</script></body></html>
